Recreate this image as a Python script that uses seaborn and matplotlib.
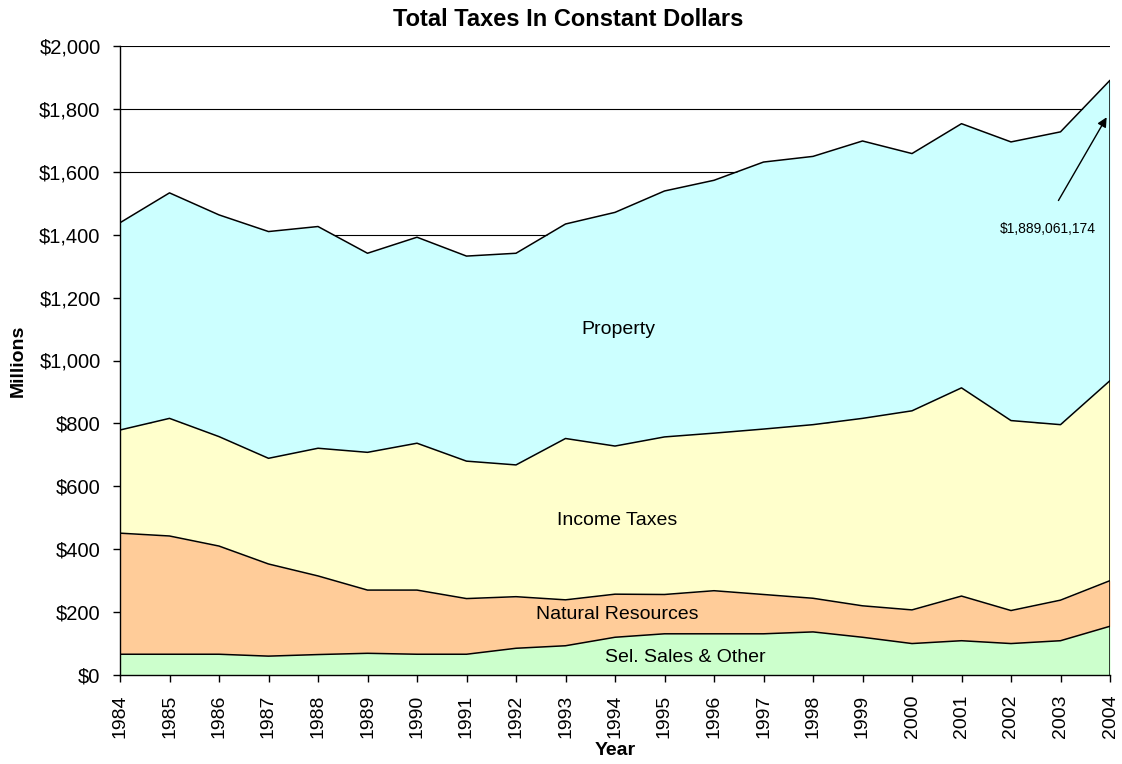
import numpy as np
import pandas as pd
import matplotlib
matplotlib.use("Agg")
import matplotlib.pyplot as plt
import seaborn as sns

years = list(range(1984, 2005))
sel_sales = [66, 66, 66, 60, 65, 69, 66, 66, 85, 93, 120, 131, 131, 131, 137, 120, 100, 109, 100, 109, 155]
natural_resources = [385, 376, 344, 293, 250, 201, 204, 177, 164, 146, 137, 125, 137, 125, 107, 100, 107, 142, 105, 129, 145]
income_taxes = [328, 374, 348, 336, 406, 438, 467, 437, 419, 513, 471, 501, 501, 526, 552, 596, 633, 662, 604, 558, 636]
property_taxes = [659, 717, 705, 721, 705, 633, 655, 652, 673, 682, 743, 782, 804, 849, 853, 882, 818, 840, 886, 931, 955]

series_names = ["Sel. Sales & Other", "Natural Resources", "Income Taxes", "Property"]
series_colors = ["#CCFFCC", "#FFCC99", "#FFFFCC", "#CCFFFF"]
y_ticks = list(range(0, 2001, 200))
y_tick_labels = [f"${v:,}" for v in y_ticks]

sns.set_theme(style="white")
plt.rcParams["font.family"] = ["Liberation Sans", "DejaVu Sans"]
plt.rcParams["text.color"] = "black"
plt.rcParams["axes.labelcolor"] = "black"
plt.rcParams["xtick.color"] = "black"
plt.rcParams["ytick.color"] = "black"

df = pd.DataFrame({"Year": years, series_names[0]: sel_sales, series_names[1]: natural_resources,
                   series_names[2]: income_taxes, series_names[3]: property_taxes})

fig = plt.figure(figsize=(11.22, 7.64), dpi=100)
ax = fig.add_axes([120/1122, 1 - 675/764, 990/1122, 629/764])

# gridlines
for v in y_ticks:
    ax.axhline(v, color="black", lw=0.8, zorder=0)

bottom = np.zeros(len(years))
for name, col in zip(series_names, series_colors):
    top = bottom + df[name].values
    ax.fill_between(df["Year"], bottom, top, color=col, lw=0, zorder=1)
    sns.lineplot(x=df["Year"], y=top, color="black", lw=1.1, ax=ax, zorder=2, legend=False)
    bottom = top

ax.vlines(years[-1], 0, bottom[-1], color="black", lw=1.1, zorder=2)

ax.set_xlim(1984, 2004)
ax.set_ylim(0, 2000)
ax.set_xticks(years)
ax.set_xticklabels([str(y) for y in years], rotation=90, fontsize=14)
ax.set_yticks(y_ticks)
ax.set_yticklabels(y_tick_labels, fontsize=14.5)
ax.tick_params(axis="both", direction="out", length=5, width=1, color="black", bottom=True, left=True, pad=9)

for s in ["top", "right"]:
    ax.spines[s].set_visible(False)
for s in ["left", "bottom"]:
    ax.spines[s].set_color("black")
    ax.spines[s].set_linewidth(1)
    ax.spines[s].set_zorder(3)

ax.set_xlabel("Year", fontsize=14, fontweight="bold", labelpad=3)
ax.set_ylabel("Millions", fontsize=14, fontweight="bold", labelpad=9)
fig.text(568/1122, 1 - 19/764, "Total Taxes In Constant Dollars", ha="center", va="center",
         fontsize=17, fontweight="bold")

ax.text(1994.06, 1100, "Property", ha="center", va="center", fontsize=14, zorder=4)
ax.text(1994.04, 490, "Income Taxes", ha="center", va="center", fontsize=14, zorder=4)
ax.text(1994.04, 191, "Natural Resources", ha="center", va="center", fontsize=14, zorder=4)
ax.text(1995.43, 57, "Sel. Sales & Other", ha="center", va="center", fontsize=14, zorder=4)

ax.text(2002.75, 1418, "$1,889,061,174", ha="center", va="center", fontsize=10, zorder=4)
ax.annotate("", xy=(2003.96, 1781), xytext=(2002.93, 1501),
            arrowprops=dict(arrowstyle="-|>", color="black", lw=1, mutation_scale=14), zorder=4)

fig.savefig("out.png", dpi=100)
